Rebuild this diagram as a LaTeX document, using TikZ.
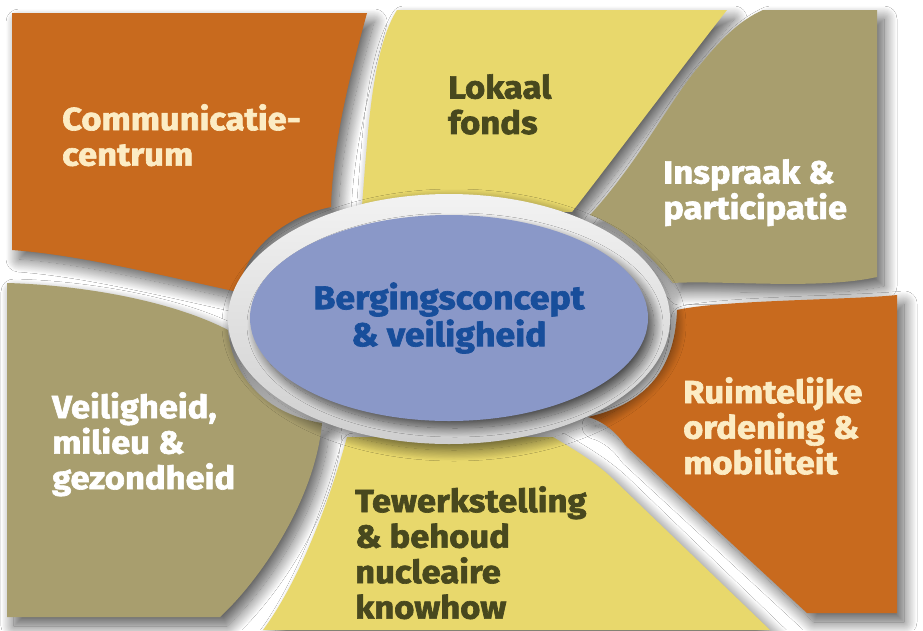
\documentclass[tikz,border=0pt]{standalone}
\usepackage{fontspec}
\setmainfont{Fira Sans}[BoldFeatures={FakeBold=2,FakeStretch=1.08}]
\usetikzlibrary{shadows.blur,shapes.geometric}

\definecolor{panelorange}{RGB}{200,106,30}
\definecolor{panelyellow}{RGB}{232,216,108}
\definecolor{panelkhaki}{RGB}{168,158,110}
\definecolor{hubblue}{RGB}{138,152,200}
\definecolor{hubtext}{RGB}{24,78,155}
\definecolor{olivetext}{RGB}{72,72,30}
\definecolor{creamtext}{RGB}{252,236,196}

\begin{document}
\begin{tikzpicture}[x=1pt,y=-1pt,
  panelshape/.style={blur shadow={shadow xshift=7pt,shadow yshift=-9pt,
      shadow blur radius=13pt,shadow blur steps=20,shadow opacity=65}},
  paneltext/.style={font=\fontsize{32}{35.5}\selectfont\bfseries,
      align=left,inner sep=0pt,anchor=north west},
  hubring/.style={blur shadow={shadow xshift=5pt,shadow yshift=-6pt,
      shadow blur radius=11pt,shadow blur steps=20,shadow opacity=60},
      top color=gray!10,bottom color=gray!38},
  hubnode/.style={ellipse,fill=hubblue,inner sep=0pt,
      minimum width=398pt,minimum height=206pt,
      blur shadow={shadow xshift=6pt,shadow yshift=-7pt,
      shadow blur radius=9pt,shadow blur steps=20,shadow opacity=65},
      font=\fontsize{33}{37}\selectfont\bfseries,text=hubtext,align=center}]

% page
\fill[white] (0,0) rectangle (923,630);
\useasboundingbox (0,0) rectangle (923,630);

% upper left: communication centre
\path[panelshape,fill=panelorange]
  (12,13) -- (367,13) .. controls (350,75) and (333,140) .. (331,207)
  .. controls (290,215) and (245,245) .. (238,292)
  .. controls (160,275) and (80,255) .. (12,250) -- cycle;

% top: local fund
\path[panelshape,fill=panelyellow]
  (397,10) -- (727,10) .. controls (680,70) and (620,150) .. (572,212)
  -- (362,206) .. controls (368,130) and (372,50) .. (397,10) -- cycle;

% upper right: participation
\path[panelshape,fill=panelkhaki]
  (763,10) -- (877,10) -- (877,277)
  .. controls (820,290) and (720,280) .. (673,283)
  .. controls (650,255) and (620,225) .. (590,215)
  .. controls (640,160) and (670,100) .. (700,65)
  .. controls (720,40) and (740,20) .. (763,10) -- cycle;

% lower left: safety, environment and health
\path[panelshape,fill=panelkhaki]
  (7,283) .. controls (80,285) and (170,300) .. (228,330)
  .. controls (232,380) and (270,415) .. (322,423)
  .. controls (315,500) and (260,580) .. (220,617) -- (7,617) -- cycle;

% bottom: employment and nuclear know-how
\path[panelshape,fill=panelyellow]
  (347,437) -- (553,437) .. controls (575,450) and (595,462) .. (612,478)
  -- (770,630) -- (263,630) .. controls (300,580) and (330,500) .. (347,437) -- cycle;

% right: spatial planning and mobility
\path[panelshape,fill=panelorange]
  (677,310) .. controls (720,300) and (850,300) .. (897,295) -- (897,613)
  -- (807,613) -- (625,445) .. controls (615,430) and (600,420) .. (588,417)
  .. controls (640,405) and (675,375) .. (677,310) -- cycle;

% silver rim and central ellipse
\path[hubring] (449,319) ellipse [x radius=221, y radius=125];
\node[hubnode] (hub) at (449,318) {Bergingsconcept\\\& veiligheid};

% panel captions
\node[paneltext,text=creamtext] (comm) at (62,104) {Communicatie-\\centrum};
\node[paneltext,text=olivetext] (fonds) at (448,74) {Lokaal\\fonds};
\node[paneltext,text=white] (inspraak) at (663,159) {Inspraak \&\\participatie};
\node[paneltext,text=white] (veilig) at (52,392) {Veiligheid,\\milieu \&\\gezondheid};
\node[paneltext,text=creamtext] (ruimte) at (683,377) {Ruimtelijke\\ordening \&\\mobiliteit};
\node[paneltext,text=olivetext] (werk) at (355,486) {Tewerkstelling\\\& behoud\\nucleaire\\knowhow};
\end{tikzpicture}
\end{document}
